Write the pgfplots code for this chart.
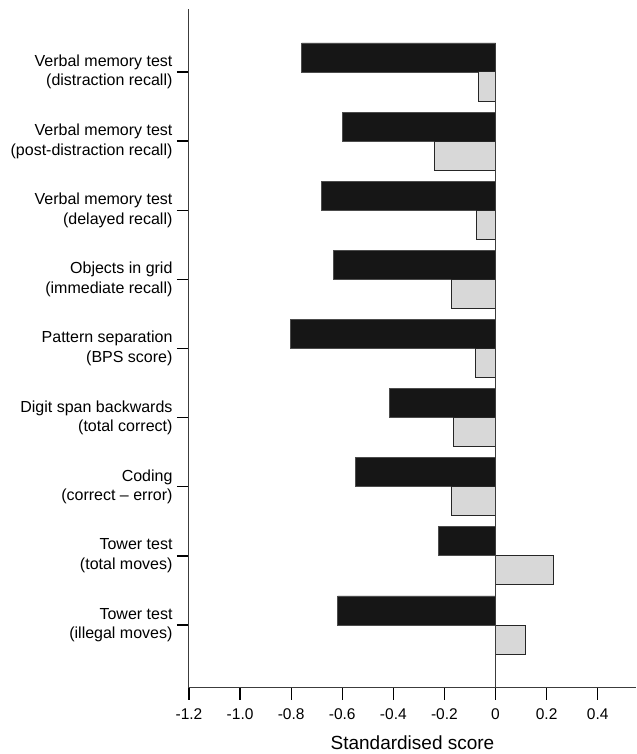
\documentclass[border=0pt]{standalone}
\usepackage{fontspec}
\setmainfont{Liberation Sans}
\usepackage{pgfplots}
\pgfplotsset{compat=1.18}
\definecolor{darkbar}{RGB}{22,22,22}
\definecolor{lightbar}{RGB}{216,216,216}
\definecolor{axisgray}{RGB}{60,60,60}
\begin{document}
\begin{tikzpicture}
\begin{axis}[
    scale only axis, width=447pt, height=678.4pt,
    xmin=-1.2, xmax=0.55, ymin=0.093, ymax=9.907,
    axis x line*=bottom, axis y line*=left,
    axis line style={-, line width=1pt, axisgray},
    xtick={-1.2,-1.0,-0.8,-0.6,-0.4,-0.2,0,0.2,0.4},
    xticklabels={-1.2,-1.0,-0.8,-0.6,-0.4,-0.2,0,0.2,0.4},
    ytick={1,2,3,4,5,6,7,8,9},
    yticklabels={{Tower test\\(illegal moves)},
                 {Tower test\\(total moves)},
                 {Coding\\(correct -- error)},
                 {Digit span backwards\\(total correct)},
                 {Pattern separation\\(BPS score)},
                 {Objects in grid\\(immediate recall)},
                 {Verbal memory test\\(delayed recall)},
                 {Verbal memory test\\(post-distraction recall)},
                 {Verbal memory test\\(distraction recall)}},
    tick align=outside, major tick length=12pt,
    major tick style={black, line width=1.3pt},
    yticklabel style={align=right, font=\fontsize{16}{19.5}\selectfont, xshift=-1pt},
    xticklabel style={font=\fontsize{15.5}{18}\selectfont, yshift=-5pt},
    xlabel={Standardised score},
    xlabel style={font=\fontsize{19}{22}\selectfont, at={(axis description cs:0.5,0)}, anchor=base, yshift=-62pt},
    clip=false,
]
\addplot[xbar, bar width=0.42, bar shift=0.21, fill=darkbar, draw=black!70, line width=0.8pt]
  coordinates {(-0.759,9) (-0.601,8) (-0.683,7) (-0.636,6) (-0.803,5) (-0.416,4) (-0.550,3) (-0.222,2) (-0.618,1)};
\addplot[xbar, bar width=0.42, bar shift=-0.21, fill=lightbar, draw=black!85, line width=1pt]
  coordinates {(-0.066,9) (-0.237,8) (-0.074,7) (-0.174,6) (-0.079,5) (-0.166,4) (-0.171,3) (0.226,2) (0.117,1)};
\draw[axisgray, line width=1pt] (axis cs:0,9.42) -- (axis cs:0,0.093);
\end{axis}
\path (current axis.south west) ++(-189pt,-66.3pt);
\path (current axis.north east) ++(0pt,9.3pt);
\end{tikzpicture}
\end{document}
